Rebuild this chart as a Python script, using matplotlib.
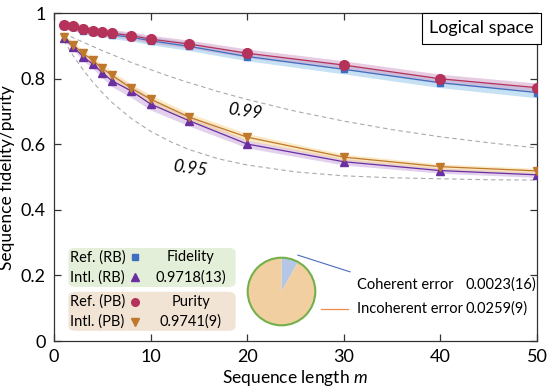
import numpy as np
import matplotlib
matplotlib.use("Agg")
import matplotlib.pyplot as plt
from matplotlib.patches import FancyBboxPatch, Circle

plt.rcParams["font.family"] = ["Lato", "DejaVu Sans"]
plt.rcParams["mathtext.fontset"] = "custom"
plt.rcParams["mathtext.it"] = "Lato:italic"
plt.rcParams["mathtext.rm"] = "Lato"

# sequence lengths
m = [1, 2, 3, 4, 5, 6, 8, 10, 14, 20, 30, 40, 50]

# reference sequences (upper group)
ref_pb = [0.964, 0.962, 0.951, 0.947, 0.943, 0.939, 0.932, 0.921, 0.906, 0.878, 0.842, 0.800, 0.773]
ref_pb_err = [0.010, 0.014, 0.012, 0.011, 0.011, 0.011, 0.011, 0.012, 0.012, 0.013, 0.013, 0.014, 0.014]
ref_rb = [0.960, 0.957, 0.947, 0.943, 0.939, 0.934, 0.927, 0.916, 0.899, 0.868, 0.829, 0.788, 0.758]
ref_rb_err = [0.010, 0.010, 0.011, 0.011, 0.011, 0.012, 0.012, 0.012, 0.013, 0.013, 0.014, 0.015, 0.016]

# interleaved sequences (lower group)
intl_pb = [0.929, 0.903, 0.878, 0.857, 0.832, 0.811, 0.771, 0.738, 0.683, 0.622, 0.561, 0.532, 0.519]
intl_pb_err = [0.008, 0.010, 0.011, 0.012, 0.013, 0.013, 0.013, 0.013, 0.012, 0.011, 0.009, 0.008, 0.008]
intl_rb = [0.924, 0.898, 0.868, 0.845, 0.819, 0.794, 0.763, 0.723, 0.672, 0.601, 0.547, 0.520, 0.507]
intl_rb_err = [0.008, 0.010, 0.012, 0.013, 0.016, 0.018, 0.020, 0.018, 0.016, 0.012, 0.010, 0.008, 0.008]

# reference decay curves for gate fidelity 0.99 and 0.95
m_ref = [1, 2, 3, 4, 5, 6, 8, 10, 12, 14, 17, 20, 25, 30, 35, 40, 45, 50]
curve_099 = [0.940, 0.925, 0.912, 0.899, 0.886, 0.874, 0.850, 0.828, 0.807, 0.788, 0.761,
             0.737, 0.701, 0.671, 0.645, 0.623, 0.605, 0.589]
curve_095 = [0.917, 0.870, 0.828, 0.791, 0.758, 0.728, 0.679, 0.640, 0.609, 0.584, 0.556,
             0.537, 0.516, 0.504, 0.498, 0.495, 0.492, 0.491]

# error budget
err_labels = ["Coherent error", "Incoherent error"]
err_values = [0.0023, 0.0259]
err_text = ["0.0023(16)", "0.0259(9)"]

fig = plt.figure(figsize=(5.47, 3.9), dpi=100)
ax = fig.add_axes([0.0987, 0.1256, 0.883, 0.8404])

c_pur, c_fid = "#b5325a", "#3d6fc0"
c_ipb, c_irb = "#c0782c", "#6a2fa0"

ax.plot(m_ref, curve_099, color="#aaaaaa", lw=0.8, dashes=(4, 3), zorder=1)
ax.plot(m_ref, curve_095, color="#aaaaaa", lw=0.8, dashes=(4, 3), zorder=1)

series = [
    (ref_rb, ref_rb_err, c_fid, "#8cc4e8", "s", 4.5),
    (ref_pb, ref_pb_err, c_pur, "#cf98c4", "o", 7),
    (intl_rb, intl_rb_err, c_irb, "#c9a2dc", "^", 5.5),
    (intl_pb, intl_pb_err, c_ipb, "#f5d48a", "v", 5.5),
]
for vals, err, col, band, mk, ms in series:
    v = np.array(vals)
    e = np.array(err)
    ax.fill_between(m, v - e, v + e, color=band, alpha=0.5, lw=0, zorder=2)
    ax.plot(m, v, color=col, lw=0.9, zorder=3)
    ax.plot(m, v, ls="none", marker=mk, ms=ms, color=col, zorder=4)

ax.text(19.8, 0.699, "0.99", fontsize=12.5, style="italic", rotation=-8, ha="center", va="center")
ax.text(14.1, 0.528, "0.95", fontsize=12.5, style="italic", rotation=-8, ha="center", va="center")

ax.text(0.885, 0.954, "Logical space", transform=ax.transAxes, fontsize=13,
        ha="center", va="center",
        bbox=dict(boxstyle="square,pad=0.4", fc="white", ec="black", lw=0.8))

# legend boxes
for y0, h, fc in [(0.165, 0.119, "#e3efd8"), (0.031, 0.119, "#f1e4d5")]:
    ax.add_patch(FancyBboxPatch((0.030, y0), 0.346, h, transform=ax.transAxes,
                                boxstyle="round,pad=0,rounding_size=0.015",
                                fc=fc, ec="none", zorder=5))
rows = [
    ("Ref. (RB)", "s", c_fid, 4.5, "Fidelity", 0.256),
    ("Intl. (RB)", "^", c_irb, 5.5, "0.9718(13)", 0.195),
    ("Ref. (PB)", "o", c_pur, 5.5, "Purity", 0.119),
    ("Intl. (PB)", "v", c_ipb, 5.5, "0.9741(9)", 0.058),
]
for lab, mk, col, ms, val, y in rows:
    ax.text(0.034, y, lab, transform=ax.transAxes, fontsize=10.5, va="center", zorder=6)
    ax.plot([0.168], [y], marker=mk, ms=ms, color=col, transform=ax.transAxes, zorder=6, clip_on=False)
    ax.text(0.283, y, val, transform=ax.transAxes, fontsize=10.5, va="center", ha="center", zorder=6)

# pie of error budget
pax = fig.add_axes([246 / 547, 1 - 327 / 390, 71 / 547, 71 / 390])
pax.pie(err_values, colors=["#b4c8e6", "#f2cfa0"], startangle=90, counterclock=False,
        wedgeprops=dict(lw=0))
pax.add_patch(Circle((0, 0), 1, fill=False, ec="#74b04a", lw=1.5))
pax.set_xlim(-1.05, 1.05)
pax.set_ylim(-1.05, 1.05)
pax.set_aspect("equal")
pax.axis("off")

ax.plot([0.505, 0.613], [0.262, 0.211], color="#4a6cc0", lw=0.8, transform=ax.transAxes)
ax.plot([0.553, 0.609], [0.098, 0.098], color="#ee8c4e", lw=0.9, transform=ax.transAxes)
for lab, txt, y in zip(err_labels, err_text, [0.171, 0.098]):
    ax.text(0.627, y, lab, transform=ax.transAxes, fontsize=10.5, va="center")
    ax.text(0.853, y, txt, transform=ax.transAxes, fontsize=10.5, va="center")

ax.set_xlim(0, 50)
ax.set_ylim(0, 1)
ax.set_xticks([0, 10, 20, 30, 40, 50])
ax.set_yticks([0, 0.2, 0.4, 0.6, 0.8, 1])
ax.set_yticklabels(["0", "0.2", "0.4", "0.6", "0.8", "1"])
ax.tick_params(direction="in", length=5, width=0.9, top=True, right=True,
               labelsize=13, colors="#333333", labelcolor="black", pad=6)
for s in ax.spines.values():
    s.set_color("#333333")
    s.set_linewidth(0.9)
ax.set_xlabel("Sequence length $m$", fontsize=12.5, labelpad=2)
ax.set_ylabel("Sequence fidelity/purity", fontsize=12.5, labelpad=4)

fig.savefig("out.png", dpi=100)
